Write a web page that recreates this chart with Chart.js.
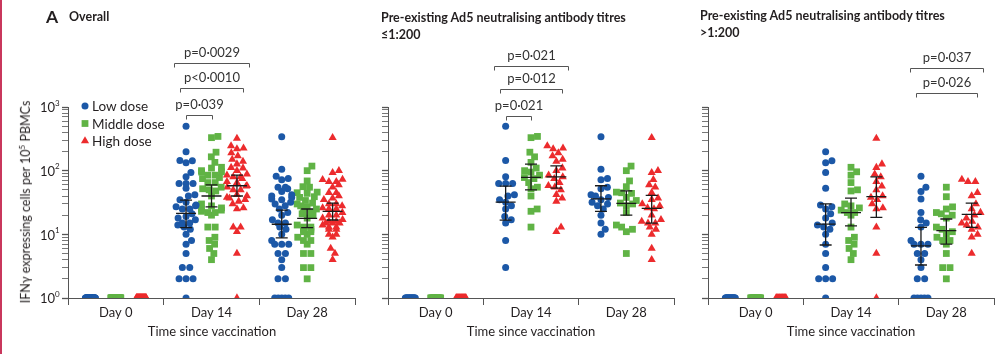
<!DOCTYPE html>
<html>
<head>
<meta charset="utf-8">
<script src="https://cdn.jsdelivr.net/npm/chart.js@4.4.1/dist/chart.umd.min.js"></script>
<style>
    body { margin: 0; background: #fff; width: 1000px; height: 354px; position: relative; overflow: hidden; font-family: Lato, 'Open Sans', sans-serif; color: #231f20; }
    canvas { position: absolute; top: 0; }
    .txt { position: absolute; white-space: nowrap; line-height: 16px; }
    .bold { font-weight: 700; font-size: 12.5px; }
    .xt { font-size: 13px; transform: translateX(-50%); }
    .edge { position: absolute; left: 0; top: 0; width: 2px; height: 354px; background: #c9375c; }
</style>
</head>
<body>
<div class="edge"></div>
<canvas id="chartAll" width="360" height="354" style="left:0"></canvas>
<canvas id="chartLe" width="320" height="354" style="left:360px"></canvas>
<canvas id="chartGt" width="320" height="354" style="left:680px"></canvas>

<div class="txt" style="left:46px;top:9px;font-size:17.5px;font-weight:700">A</div>
<div class="txt bold" style="left:69px;top:9px">Overall</div>
<div class="txt bold" style="left:381px;top:10px">Pre-existing Ad5 neutralising antibody titres</div>
<div class="txt bold" style="left:381px;top:27px">≤1:200</div>
<div class="txt bold" style="left:700px;top:8px">Pre-existing Ad5 neutralising antibody titres</div>
<div class="txt bold" style="left:700px;top:25px">&gt;1:200</div>

<div class="txt xt" style="left:212px;top:323px">Time since vaccination</div>
<div class="txt xt" style="left:531px;top:323px">Time since vaccination</div>
<div class="txt xt" style="left:851px;top:323px">Time since vaccination</div>
<div class="txt" style="left:24px;top:202px;font-size:12.5px;transform:translate(-50%,-50%) rotate(-90deg)">IFNγ expressing cells per 10<sup style="font-size:8px">5</sup> PBMCs</div>

<script>
// categories and groups
const days = ['Day 0', 'Day 14', 'Day 28'];
const doses = ['Low dose', 'Middle dose', 'High dose'];
const doseColors = ['#1c58a7', '#60b345', '#ec2b2d'];
const doseShapes = ['circle', 'rect', 'triangle'];
const doseRadius = [3.5, 4.8, 4.7];
const doseOffset = [-0.266, 0, 0.266];

const xTickValues = [0, 0.5, 1, 1.5, 2, 2.5, 3];
const yTickValues = [1, 2, 3, 4, 5, 6, 7, 8, 9, 10, 20, 30, 40, 50, 60, 70, 80, 90,
    100, 200, 300, 400, 500, 600, 700, 800, 900, 1000];
const yMajorTicks = [1, 10, 100, 1000];
const yMajorExp = ['0', '1', '2', '3'];

// Pre-existing titres <=1:200 (IFNy cells per 10^5 PBMCs)
const lowLeDay0 = [1, 1, 1, 1, 1, 1, 1, 1, 1, 1, 1, 1, 1, 1, 1, 1, 1, 1];
const lowLeDay14 = [500, 145, 80, 63, 63, 63, 42, 40, 35, 32, 28, 25, 19, 17, 15, 8, 3];
const lowLeDay28 = [340, 105, 75, 72, 55, 52, 42, 40, 38, 35, 32, 30, 28, 25, 20, 15, 12, 10];
const midLeDay0 = [1, 1, 1, 1, 1, 1, 1, 1, 1, 1, 1, 1, 1, 1, 1, 1, 1, 1];
const midLeDay14 = [345, 330, 195, 165, 135, 110, 100, 95, 85, 78, 75, 65, 55, 52, 40, 25, 23, 13];
const midLeDay28 = [118, 100, 69, 56, 46, 45, 44, 38, 34, 31, 30, 28, 22, 14, 13, 12, 11, 5];
const highLeDay0 = [1, 1, 1, 1, 1, 1, 1, 1, 1, 1, 1, 1, 1, 1, 1, 1, 1, 1, 1, 1, 1];
const highLeDay14 = [245, 225, 220, 190, 170, 150, 140, 110, 100, 85, 80, 75, 65, 58, 55, 50, 42, 37, 33, 13, 11];
const highLeDay28 = [330, 100, 93, 72, 60, 55, 45, 37, 35, 30, 28, 26, 25, 20, 17, 16, 15, 15, 13, 12, 10, 6, 4];

// Pre-existing titres >1:200
const lowGtDay0 = [1, 1, 1, 1, 1, 1, 1, 1, 1, 1, 1, 1, 1, 1, 1, 1, 1, 1, 1, 1, 1, 1];
const lowGtDay14 = [198, 143, 133, 94, 53, 29, 27, 25, 21, 18, 15, 14, 13, 12, 10, 7, 5, 3, 2, 2, 2, 1];
const lowGtDay28 = [82, 55, 47, 36, 22, 17, 15, 13, 8, 7, 7, 7, 5, 5, 4, 3, 2, 2, 1, 1, 1, 1, 1];
const midGtDay0 = [1, 1, 1, 1, 1, 1, 1, 1, 1, 1, 1, 1, 1, 1, 1, 1, 1, 1, 1, 1];
const midGtDay14 = [113, 96, 85, 65, 50, 48, 30, 28, 26, 24, 22, 22, 20, 13, 9, 8, 7, 6, 5, 4];
const midGtDay28 = [55, 39, 27, 25, 22, 21, 20, 18, 13, 12, 11, 10, 9, 8, 8, 7, 5, 3, 3, 2];
const highGtDay0 = [1, 1, 1, 1, 1, 1, 1, 1, 1, 1, 1, 1, 1, 1, 1, 1, 1];
const highGtDay14 = [321, 127, 112, 88, 80, 67, 57, 50, 40, 38, 35, 30, 26, 25, 13, 5, 1];
const highGtDay28 = [73, 67, 67, 45, 40, 30, 25, 22, 20, 18, 16, 15, 14, 13, 12, 10, 9, 5];

// median and IQR per day (Day 14, Day 28) x dose (low, middle, high)
const medianAll = [[21.4, 40, 58], [14.4, 17.8, 23]];
const q1All = [[12.7, 27, 40], [8.8, 12.7, 16.8]];
const q3All = [[34.5, 60, 85], [24, 25, 31]];
const medianLe = [[32, 78.5, 80], [36, 30.6, 25.6]];
const q1Le = [[16.7, 50, 53], [23, 20, 15]];
const q3Le = [[57, 127, 119], [58, 48, 41]];
const medianGt = [[14.5, 22, 39], [6.6, 11.4, 20.6]];
const q1Gt = [[6.8, 13.6, 18.5], [3.3, 7, 12.9]];
const q3Gt = [[30, 37, 80], [12.9, 17.4, 31]];

const panelLe = [
    [lowLeDay0, lowLeDay14, lowLeDay28],
    [midLeDay0, midLeDay14, midLeDay28],
    [highLeDay0, highLeDay14, highLeDay28]
];
const panelGt = [
    [lowGtDay0, lowGtDay14, lowGtDay28],
    [midGtDay0, midGtDay14, midGtDay28],
    [highGtDay0, highGtDay14, highGtDay28]
];
// overall = both titre groups together
const panelAll = panelLe.map((byDay, d) => byDay.map((vals, k) => vals.concat(panelGt[d][k])));

// significance brackets (day index, dose from/to, height on the y scale)
const bracketsAll = [
    { day: 1, from: 0, to: 1, level: 746, pad: 0, text: 'p=0·039' },
    { day: 1, from: 0, to: 2, level: 1982, pad: 6, text: 'p<0·0010' },
    { day: 1, from: 0, to: 2, level: 4890, pad: 12, text: 'p=0·0029' }
];
const bracketsLe = [
    { day: 1, from: 0, to: 1, level: 720, pad: 0, text: 'p=0·021' },
    { day: 1, from: 0, to: 2, level: 1910, pad: 6, text: 'p=0·012' },
    { day: 1, from: 0, to: 2, level: 4385, pad: 12, text: 'p=0·021' }
];
const bracketsGt = [
    { day: 2, from: 0, to: 2, level: 1650, pad: 5, text: 'p=0·026' },
    { day: 2, from: 0, to: 2, level: 4080, pad: 11, text: 'p=0·037' }
];

// rough pixel sizes, only used to spread the dots sideways
const X_PX = 95.7;
const Y_PX = 63.7;

// Beeswarm: same values sit in a row, others are pushed aside when they touch
function swarm(vals) {
    const D = 6.6, MAXH = 10;
    const counts = {};
    vals.forEach(v => counts[v] = (counts[v] || 0) + 1);
    const levels = Object.keys(counts).map(Number).sort((a, b) => a - b);
    const placed = [];
    levels.forEach(v => {
        const n = counts[v];
        const y = Math.log10(v) * Y_PX;
        if (n > 1) {
            const span = Math.min((n - 1) * 7.4, n > 8 ? 10 : 14);
            for (let i = 0; i < n; i++) {
                placed.push({ v, y, x: -span / 2 + span * i / (n - 1) });
            }
            return;
        }
        const near = placed.filter(q => Math.abs(q.y - y) < D);
        const cands = [0];
        near.forEach(q => {
            const dx = Math.sqrt(D * D - (q.y - y) ** 2);
            cands.push(q.x + dx, q.x - dx);
        });
        cands.sort((a, b) => Math.abs(a) - Math.abs(b));
        let x = cands.find(c => near.every(q => Math.hypot(q.x - c, q.y - y) >= D - 0.01));
        if (x === undefined) x = 0;
        placed.push({ v, y, x: Math.max(-MAXH, Math.min(MAXH, x)) });
    });
    return placed.map(p => ({ v: p.v, dx: p.x / X_PX }));
}

function buildDatasets(panel) {
    return panel.map((byDay, d) => ({
        label: doses[d],
        data: byDay.flatMap((vals, k) => swarm(vals).map(p => ({ x: k + 0.5 + doseOffset[d] + p.dx, y: p.v }))),
        pointStyle: doseShapes[d],
        pointRadius: doseRadius[d],
        pointBackgroundColor: doseColors[d],
        pointBorderWidth: 0,
        pointHoverRadius: doseRadius[d]
    }));
}

function drawMarker(ctx, shape, r, x, y) {
    ctx.beginPath();
    if (shape === 'circle') {
        ctx.arc(x, y, r, 0, Math.PI * 2);
    } else if (shape === 'rect') {
        const s = r * Math.SQRT1_2;
        ctx.rect(x - s, y - s, 2 * s, 2 * s);
    } else {
        for (let i = 0; i < 3; i++) {
            const a = -Math.PI / 2 + i * 2 * Math.PI / 3;
            ctx.lineTo(x + r * Math.cos(a), y + r * Math.sin(a));
        }
        ctx.closePath();
    }
    ctx.fill();
}

const summaryPlugin = {
    id: 'summary',
    afterDatasetsDraw(chart, args, opts) {
        const { ctx } = chart;
        const x = chart.scales.x, y = chart.scales.y;
        ctx.save();
        // median with interquartile range
        ctx.strokeStyle = '#1a1a1a';
        ctx.lineWidth = 1.3;
        opts.medians.forEach((meds, k) => {
            meds.forEach((m, d) => {
                const cx = x.getPixelForValue(k + 1.5 + doseOffset[d]);
                const yMed = y.getPixelForValue(m);
                const yLo = y.getPixelForValue(opts.q1[k][d]);
                const yHi = y.getPixelForValue(opts.q3[k][d]);
                ctx.beginPath();
                ctx.moveTo(cx, yLo); ctx.lineTo(cx, yHi);
                ctx.moveTo(cx - 6, yLo); ctx.lineTo(cx + 6, yLo);
                ctx.moveTo(cx - 6, yHi); ctx.lineTo(cx + 6, yHi);
                ctx.moveTo(cx - 10, yMed); ctx.lineTo(cx + 10, yMed);
                ctx.stroke();
            });
        });
        // p-value brackets
        ctx.strokeStyle = '#555';
        ctx.lineWidth = 1;
        ctx.fillStyle = '#333';
        ctx.font = '13px Lato, sans-serif';
        ctx.textAlign = 'center';
        ctx.textBaseline = 'middle';
        opts.brackets.forEach(b => {
            const x1 = Math.round(x.getPixelForValue(b.day + 0.5 + doseOffset[b.from]) - b.pad) + 0.5;
            const x2 = Math.round(x.getPixelForValue(b.day + 0.5 + doseOffset[b.to]) + b.pad) + 0.5;
            const by = Math.round(y.getPixelForValue(b.level)) + 0.5;
            ctx.beginPath();
            ctx.moveTo(x1, by + 4); ctx.lineTo(x1, by); ctx.lineTo(x2, by); ctx.lineTo(x2, by + 4);
            ctx.stroke();
            ctx.fillText(b.text, (x1 + x2) / 2, by - 11);
        });
        ctx.restore();
    },
    afterDraw(chart, args, opts) {
        if (!opts.labels) return;
        const { ctx } = chart;
        const y = chart.scales.y;
        const left = chart.chartArea.left;
        ctx.save();
        ctx.fillStyle = '#231f20';
        ctx.textBaseline = 'middle';
        // 10^n tick labels
        yMajorTicks.forEach((v, i) => {
            const py = y.getPixelForValue(v);
            ctx.textAlign = 'left';
            ctx.font = '8px Lato, sans-serif';
            ctx.fillText(yMajorExp[i], left - 13, py - 4);
            ctx.textAlign = 'right';
            ctx.font = '13px Lato, sans-serif';
            ctx.fillText('10', left - 13, py + 1);
        });
        // legend
        ctx.font = '13.5px Lato, sans-serif';
        ctx.textAlign = 'left';
        doses.forEach((name, d) => {
            const ly = 106 + d * 17.5;
            ctx.fillStyle = doseColors[d];
            drawMarker(ctx, doseShapes[d], doseRadius[d], 85, ly);
            ctx.fillStyle = '#231f20';
            ctx.fillText(name, 92, ly + 1);
        });
        ctx.restore();
    }
};

function makeChart(id, panel, medians, q1, q3, brackets, axisWidth, labels) {
    new Chart(document.getElementById(id), {
        type: 'scatter',
        data: { datasets: buildDatasets(panel) },
        options: {
            responsive: false,
            animation: false,
            events: [],
            layout: { autoPadding: false, padding: { top: 107, right: axisWidth > 60 ? 5 : 6, bottom: 0, left: 0 } },
            plugins: {
                legend: { display: false },
                tooltip: { enabled: false },
                summary: { medians, q1, q3, brackets, labels }
            },
            scales: {
                x: {
                    type: 'linear',
                    min: 0,
                    max: 3,
                    afterBuildTicks: s => { s.ticks = xTickValues.map(v => ({ value: v })); },
                    afterFit: s => { s.height = 56; },
                    ticks: {
                        autoSkip: false,
                        maxRotation: 0,
                        padding: 0,
                        color: '#231f20',
                        font: { family: 'Lato', size: 13 },
                        callback: v => (v % 1 === 0.5 ? days[Math.floor(v)] : '')
                    },
                    grid: {
                        drawOnChartArea: false,
                        tickLength: 7,
                        tickColor: ctx => (ctx.tick && Number.isInteger(ctx.tick.value) ? '#555' : 'rgba(0,0,0,0)')
                    },
                    border: { color: '#555', width: 1 }
                },
                y: {
                    type: 'logarithmic',
                    min: 1,
                    max: 1000,
                    afterBuildTicks: s => { s.ticks = yTickValues.map(v => ({ value: v, major: yMajorTicks.includes(v) })); },
                    afterFit: s => { s.width = axisWidth; },
                    ticks: { display: false },
                    grid: {
                        drawOnChartArea: false,
                        tickLength: 6,
                        tickColor: '#555',
                        tickWidth: ctx => (ctx.tick && yMajorTicks.includes(ctx.tick.value) ? 1.3 : 0.8)
                    },
                    border: { color: '#555', width: 1 }
                }
            }
        },
        plugins: [summaryPlugin]
    });
}

function renderCharts() {
    makeChart('chartAll', panelAll, medianAll, q1All, q3All, bracketsAll, 68, true);
    makeChart('chartLe', panelLe, medianLe, q1Le, q3Le, bracketsLe, 28, false);
    makeChart('chartGt', panelGt, medianGt, q1Gt, q3Gt, bracketsGt, 28, false);
}

document.fonts.load('13px Lato').then(renderCharts, renderCharts);
</script>
</body>
</html>
